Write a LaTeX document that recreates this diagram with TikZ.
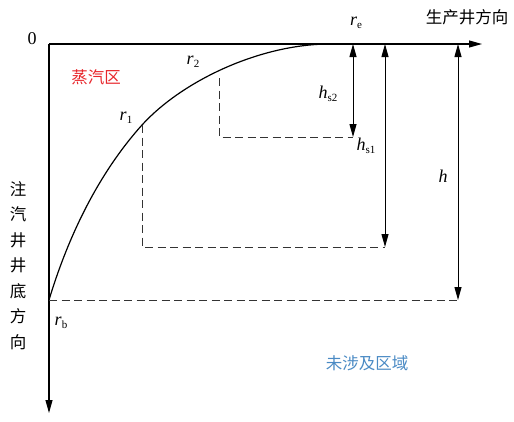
\documentclass[tikz,border=0pt]{standalone}
\usepackage{fontspec}
\setmainfont{Liberation Serif}
\newfontfamily\cjk{Noto Sans CJK SC}
\usetikzlibrary{arrows.meta}
\definecolor{steamred}{HTML}{E8262B}
\definecolor{zoneblue}{HTML}{4A8AC4}
\tikzset{
  axis/.style={line width=1.1pt,-{Triangle[length=13pt,width=7pt]}},
  dimarrow/.style={line width=1pt,{Triangle[length=13pt,width=7pt]}-{Triangle[length=13pt,width=7pt]}},
  guide/.style={line width=1pt,dash pattern=on 8pt off 4.5pt,black!80},
  curve/.style={line width=1.2pt},
  sym/.style={inner sep=0pt,font=\fontsize{18}{20}\selectfont},
  cn/.style={inner sep=0pt,font=\cjk\fontsize{16.5}{18}\selectfont},
}
\newcommand{\sub}[2]{\textit{#1}\raisebox{-0.35ex}{\fontsize{11}{12}\selectfont #2}}
\begin{document}
\begin{tikzpicture}[x=1pt,y=-1pt]
\useasboundingbox (0,0) rectangle (514,421);
\coordinate (O) at (49,44);
\coordinate (xend) at (482,44);
\coordinate (yend) at (49,413);
\coordinate (rb) at (49,300);
\coordinate (re) at (330,44);
\coordinate (r1) at (142,125);
\coordinate (r2) at (219,78);
\coordinate (r1low) at (142,247);
\coordinate (r2low) at (219,137);
\coordinate (hs2top) at (353,44);
\coordinate (hs2bot) at (353,137);
\coordinate (hs1top) at (385,44);
\coordinate (hs1bot) at (385,247);
\coordinate (htop) at (458,44);
\coordinate (hbot) at (458,300);
% axes
\draw[axis] (O) -- (xend);
\draw[axis] (O) -- (yend);
% curve
\draw[curve] (rb) .. controls (68,237) and (98,174) .. (r1)
                  .. controls (182,81) and (260,44) .. (re);
% dashed guides
\draw[guide] (r1) -- (r1low) -- (hs1bot);
\draw[guide] (r2) -- (r2low) -- (hs2bot);
\draw[guide] (rb) -- (hbot);
% dimension arrows
\draw[dimarrow] (hs2top) -- (hs2bot);
\draw[dimarrow] (hs1top) -- (hs1bot);
\draw[dimarrow] (htop) -- (hbot);
% labels
\node[sym] (zero) at (32,39) {0};
\node[sym] (lre) at (356,23) {\sub{r}{e}};
\node[cn] (prod) at (467,17) {生产井方向};
\node[cn,text=steamred] (steam) at (96,77) {蒸汽区};
\node[sym] (lr2) at (193,62) {\sub{r}{2}};
\node[sym] (lr1) at (126,118) {\sub{r}{1}};
\node[sym] (lhs2) at (328,94) {\sub{h}{s2}};
\node[sym] (lhs1) at (366,146) {\sub{h}{s1}};
\node[sym] (lh) at (443,176) {\textit{h}};
\node[sym] (lrb) at (61,323) {\sub{r}{b}};
\node[cn,text=zoneblue] (zone) at (367,363) {未涉及区域};
\node[cn,align=center,font=\cjk\fontsize{16.5}{25.5}\selectfont] (inj) at (18,265.5) {注\\汽\\井\\井\\底\\方\\向};
\end{tikzpicture}
\end{document}
